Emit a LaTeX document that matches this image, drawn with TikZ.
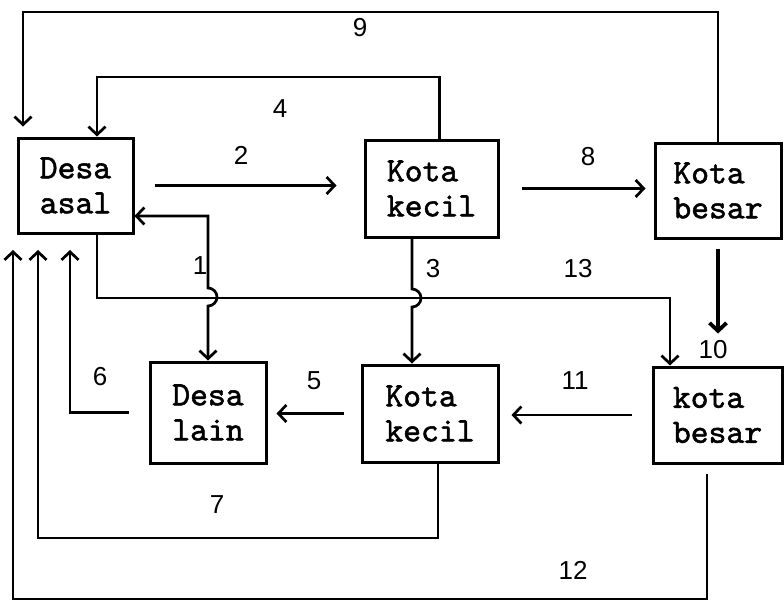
\documentclass[tikz,border=0pt]{standalone}
\usepackage{fontspec}
\newfontfamily\twfont{lmmono10-regular.otf}[FakeBold=1.6]
\newfontfamily\numfont{Liberation Sans}
\usetikzlibrary{arrows.meta,calc}
\begin{document}
\begin{tikzpicture}[x=1pt,y=-1pt,
  >={Straight Barb[length=8pt,width=17pt]},
  box/.style={draw,line width=3pt,inner sep=0pt,align=left,
    font=\twfont\fontsize{34}{35}\selectfont},
  conn/.style={line width=2.7pt},
  heavy/.style={line width=3.8pt},
  lbl/.style={font=\numfont\fontsize{26}{30}\selectfont,inner sep=0pt}]
\useasboundingbox (0,0) rectangle (784,603);

% boxes
\node[box,minimum width=115pt,minimum height=95pt] (da) at (75.5,185.5) {Desa\\asal};
\node[box,minimum width=133pt,minimum height=97pt] (kk1) at (431.5,188.5) {Kota\\kecil};
\node[box,minimum width=126pt,minimum height=95pt] (kb1) at (718,190.5) {Kota\\besar};
\node[box,minimum width=116pt,minimum height=101pt] (dl) at (208,412.5) {Desa\\lain};
\node[box,minimum width=136pt,minimum height=97pt] (kk2) at (430,413.5) {Kota\\kecil};
\node[box,minimum width=129pt,minimum height=96pt] (kb2) at (717.5,415) {kota\\besar};

% helper coordinates
\coordinate (c9) at (23,12);
\coordinate (c4) at (97,77);
\coordinate (c13a) at (97,298);
\coordinate (c13b) at (670,298);
\coordinate (e6) at (70,250);
\coordinate (c7) at (38,538);
\coordinate (e7) at (38,250);
\coordinate (c12) at (13,599);
\coordinate (e12) at (13,250);

% 9
\draw[conn,->,shorten >=10pt] (kb1.north) |- (c9) -- (c9 |- da.north);
% 4
\draw[conn,->] ($(kk1.north)+(8,0)$) |- (c4) -- (c4 |- da.north);
% 2
\draw[conn,->,shorten <=20pt,shorten >=27pt] (da.east) -- (da.east -| kk1.west);
% 8
\draw[conn,->,shorten <=22pt,shorten >=8pt] (kk1.east) -- (kk1.east -| kb1.west);
% 13
\draw[conn,->] (c13a |- da.south) -- (c13a) -- (c13b) -- (c13b |- kb2.north);
% 1
\draw[conn,<->] (da.east |- 0,216) -| (dl.north |- 0,288)
  arc[start angle=-90,end angle=90,radius=9] -- (dl.north);
% 3
\draw[conn,->] (kk1.south -| 412,0) -- (412,289)
  arc[start angle=-90,end angle=90,radius=9] -- (kk2.north -| 412,0);
% 10
\draw[heavy,->,shorten <=9pt,shorten >=32pt] (kb1.south) -- (kb1.south |- kb2.north);
% 11
\draw[conn,->,shorten <=20pt,shorten >=12pt] (kb2.west) -- (kb2.west -| kk2.east);
% 5
\draw[conn,->,shorten <=17pt,shorten >=9pt] (kk2.west) -- (kk2.west -| dl.east);
% 6
\draw[conn,->,shorten <=20pt] (dl.west) -| (e6);
% 7
\draw[conn,->] (kk2.south -| 438,0) |- (c7) -- (e7);
% 12
\draw[conn,->,shorten <=9pt] (kb2.south -| 707,0) |- (c12) -- (e12);

% labels
\node[lbl] (l9) at (360,28) {9};
\node[lbl] (l4) at (280,109) {4};
\node[lbl] (l2) at (241,155) {2};
\node[lbl] (l8) at (588,157) {8};
\node[lbl] (l1) at (200,266) {1};
\node[lbl] (l3) at (433,269) {3};
\node[lbl] (l13) at (578,269) {13};
\node[lbl] (l10) at (713,350) {10};
\node[lbl] (l11) at (575,381) {11};
\node[lbl] (l5) at (314,381) {5};
\node[lbl] (l6) at (100,377) {6};
\node[lbl] (l7) at (217,505) {7};
\node[lbl] (l12) at (573,570) {12};
\end{tikzpicture}
\end{document}
